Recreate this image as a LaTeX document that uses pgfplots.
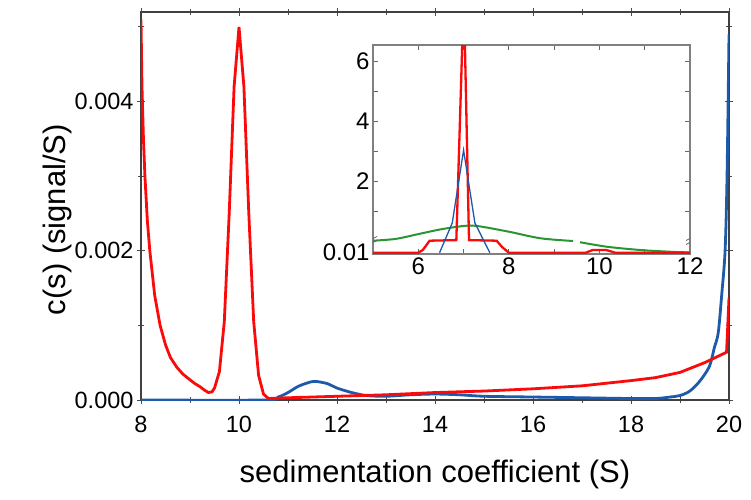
\documentclass[border=0pt]{standalone}
\usepackage{fontspec}
\setmainfont{Liberation Sans}
\usepackage{pgfplots}
\pgfplotsset{compat=1.18}
\definecolor{cred}{RGB}{250,10,10}
\definecolor{cblue}{RGB}{30,90,170}
\definecolor{cgreen}{RGB}{40,150,50}
\begin{document}
\begin{tikzpicture}
\useasboundingbox (0pt,0pt) rectangle (751pt,499pt);
\begin{axis}[
  at={(141pt,99pt)}, anchor=south west, scale only axis,
  width=588pt, height=388pt,
  xmin=8, xmax=20, ymin=0, ymax=0.0052,
  xtick={8,10,...,20}, minor xtick={9,11,...,19},
  ytick={0,0.002,0.004}, minor ytick={0.001,0.003,0.005},
  scaled y ticks=false,
  yticklabel style={/pgf/number format/.cd, fixed, fixed zerofill, precision=3},
  /pgf/number format/assume math mode=true,
  tick label style={font=\fontsize{23.5}{23.5}\selectfont},
  xticklabel style={yshift=-9pt},
  tick align=center, tick pos=both,
  major tick length=8pt, minor tick length=6pt,
  every tick/.style={black!70, line width=1pt},
  axis line style={black!75, line width=1.3pt},
  xlabel={sedimentation coefficient (S)},
  ylabel={c(s) (signal/S)},
  label style={font=\fontsize{31}{31}\selectfont},
  xlabel style={yshift=-20pt},
  ylabel style={at={(ticklabel cs:0.465)}, yshift=-4pt},
  clip=true,
]
\addplot[cblue, line width=2.8pt, smooth] coordinates {
(8,0) (10.5,0) (10.8,0.00004) (11.0,0.0001) (11.2,0.00018) (11.4,0.00023) (11.55,0.00025) (11.8,0.00022) (12.0,0.00016) (12.3,0.0001) (12.6,0.00006) (13,0.00005) (13.5,0.00007) (14,0.00008) (14.5,0.00007) (15,0.00005) (16,0.00004) (17,0.00003) (18,0.00002) (18.5,0.00002) (18.8,0.00004) (19.0,0.00006) (19.2,0.00012) (19.4,0.00025) (19.6,0.00045) (19.7,0.0007) (19.78,0.0009) (19.85,0.0014) (19.92,0.002) (19.96,0.003) (20.0,0.0049)
};
\addplot[cred, line width=2.8pt] coordinates {
(8.0,0.0051) (8.02,0.0042) (8.05,0.0035) (8.08,0.003) (8.13,0.0024) (8.18,0.002) (8.28,0.0014) (8.39,0.001) (8.5,0.00074) (8.6,0.00057) (8.73,0.00044) (8.85,0.00035) (9.0,0.00027) (9.1,0.00022) (9.2,0.00018) (9.3,0.00013) (9.38,0.0001)
(9.45,0.00011) (9.5,0.00016) (9.6,0.00038) (9.7,0.00105) (9.8,0.0025) (9.9,0.0042) (10.0,0.0050) (10.1,0.0042) (10.2,0.0025) (10.3,0.00105) (10.4,0.00033) (10.5,0.00008) (10.6,0.00002)
(11,0.00003) (12,0.00005) (13,0.00007) (14,0.0001) (15,0.00012) (16,0.00015) (17,0.00019) (18,0.00026) (18.5,0.0003) (19,0.00037) (19.5,0.0005) (19.95,0.00064) (20,0.00137)
};
\end{axis}
\begin{axis}[
  at={(373pt,245pt)}, anchor=south west, scale only axis,
  width=317pt, height=209pt,
  xmin=5, xmax=12, ymin=-0.433, ymax=6.53,
  xtick={6,8,10,12}, minor xtick={5,7,9,11},
  ytick={-0.39,2,4,6}, yticklabels={0.01,2,4,6}, minor ytick={1,3,5},
  /pgf/number format/assume math mode=true,
  tick label style={font=\fontsize{24}{24}\selectfont},
  tick align=inside, tick pos=both,
  major tick length=5pt, minor tick length=5pt,
  every tick/.style={black!60, line width=0.8pt},
  axis line style={black!50, line width=1.5pt},
  axis background/.style={fill=white},
  clip=true,
  unbounded coords=jump,
]
\addplot[cgreen, line width=2pt, smooth] coordinates {
(5.0,0.01) (5.5,0.07) (6.0,0.23) (6.5,0.39) (7.0,0.5) (7.3,0.5) (8.0,0.31) (8.7,0.09) (9.42,0.0) (9.5,nan) (9.57,-0.04) (10.16,-0.19) (10.9,-0.3) (11.6,-0.36) (12,-0.38)
};
\addplot[cred, line width=2.3pt] coordinates {
(5,-0.39) (6.0,-0.39) (6.1,-0.3) (6.25,0.01) (6.84,0.03) (6.97,6.5) (7.03,6.5) (7.12,0.03) (7.73,0.01) (7.85,-0.2) (8.0,-0.39) (9.7,-0.39) (9.85,-0.3) (10.15,-0.3) (10.35,-0.39) (12,-0.39)
};
\addplot[cblue, line width=1.3pt] coordinates {
(6.47,-0.39) (6.75,0.6) (7.0,3.03) (7.25,0.6) (7.58,-0.39)
};
\draw[black!60, line width=0.8pt] (rel axis cs:0,0.06) ++(-4pt,-3pt) -- ++(8pt,4pt) ++(-8pt,0pt) -- ++(8pt,4pt);
\draw[black!60, line width=0.8pt] (rel axis cs:1,0.06) ++(-4pt,-3pt) -- ++(8pt,4pt) ++(-8pt,0pt) -- ++(8pt,4pt);
\end{axis}
\end{tikzpicture}
\end{document}
